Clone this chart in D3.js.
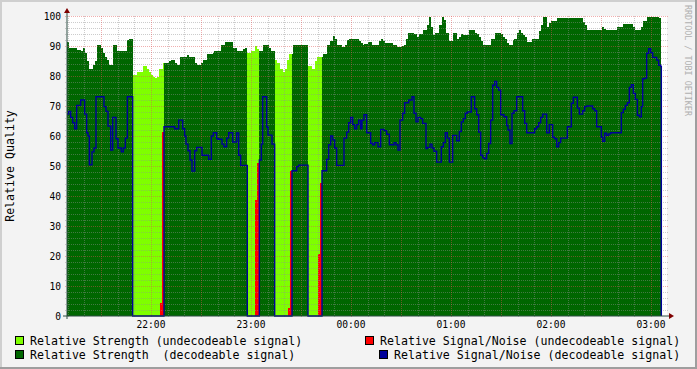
<!DOCTYPE html>
<html>
<head>
<meta charset="utf-8">
<script src="https://cdn.jsdelivr.net/npm/d3@7"></script>
<style>
  html, body { margin: 0; padding: 0; background: #F3F3F3; }
  svg { display: block; }
  text { font-family: "DejaVu Sans Mono", monospace; white-space: pre; }
</style>
</head>
<body>
<svg id="chart" width="697" height="369"></svg>
<script>
// time is minutes after 21:00, values are relative quality (0-100)

// relative strength, [minute, value] where the step changes
const strength = [
  [9.6,91.3],[10.6,89.3],[15.8,88.8],[17.8,88.4],[19.0,89.3],[20.2,87.6],[21.4,85.1],[23.0,82.4],
  [25.0,83.8],[26.2,85.1],[27.8,90.4],[30.2,89.3],[31.4,87.8],[32.6,86.4],[33.8,85.3],[35.0,83.6],
  [37.0,90.4],[39.4,88.2],[45.8,92.0],[47.0,92.4],[49.0,80.4],[51.4,81.4],[55.0,83.3],[57.4,82.4],
  [58.6,81.3],[59.8,80.4],[61.0,79.8],[62.2,79.3],[63.4,79.8],[64.6,82.4],[67.0,84.2],[68.2,84.4],
  [70.6,84.9],[71.8,85.3],[74.2,84.4],[75.4,83.6],[77.4,86.4],[81.8,87.1],[83.0,86.4],[86.2,84.4],
  [87.4,83.6],[89.8,84.4],[91.0,85.3],[93.4,87.3],[97.0,87.6],[97.8,88.2],[102.2,90.2],[104.6,91.3],
  [109.0,89.3],[111.4,88.4],[115.0,88.9],[116.2,89.3],[117.8,87.6],[119.8,88.4],[122.2,90.0],[123.4,89.1],
  [125.0,88.4],[127.0,90.4],[131.0,89.3],[132.2,88.2],[134.2,85.3],[135.8,84.2],[137.4,82.4],[139.0,81.3],
  [140.2,82.4],[141.4,85.3],[143.0,87.3],[145.0,90.4],[154.2,83.3],[156.6,82.4],[158.2,85.1],[159.8,86.4],
  [163.0,87.3],[165.4,90.2],[167.4,91.8],[169.0,93.3],[170.6,92.2],[171.8,90.4],[174.6,89.6],[176.2,90.4],
  [177.4,92.0],[179.0,92.4],[184.6,91.8],[185.8,91.1],[187.0,90.4],[187.8,90.7],[190.2,91.3],[192.6,90.4],
  [196.6,91.6],[197.8,92.4],[199.0,91.6],[200.2,91.1],[205.0,90.4],[207.4,89.6],[210.6,90.0],[211.8,90.4],
  [213.0,92.4],[214.2,94.4],[217.8,94.0],[219.4,93.1],[220.6,94.0],[223.0,95.3],[225.4,97.1],[226.6,99.8],
  [227.8,96.2],[229.0,93.8],[230.2,94.4],[233.0,96.9],[234.6,99.8],[235.8,98.7],[237.0,94.4],[238.6,91.8],
  [241.0,94.4],[243.4,92.4],[244.6,93.1],[245.8,94.0],[247.0,93.8],[248.2,93.6],[250.6,95.3],[254.2,94.4],
  [255.4,94.0],[256.6,93.1],[257.8,91.8],[259.0,90.4],[263.8,92.4],[266.2,94.2],[269.8,94.0],[271.0,93.1],
  [272.2,92.4],[273.4,91.1],[274.6,90.4],[277.0,92.0],[277.8,92.2],[279.4,94.4],[280.6,95.3],[281.8,94.4],
  [283.0,93.8],[284.2,93.1],[285.4,91.3],[288.6,92.2],[291.4,92.4],[292.6,95.0],[293.8,97.1],[295.0,99.8],
  [297.4,96.2],[298.6,97.6],[299.8,98.2],[303.8,99.3],[319.0,98.0],[320.2,97.1],[321.8,95.3],[330.6,96.2],
  [331.8,95.8],[333.0,95.3],[339.8,96.4],[343.0,97.3],[349.0,96.2],[350.2,95.3],[353.8,96.2],[355.0,98.2],
  [357.4,99.8],[363.8,99.6],[365.0,99.3]
];

// relative signal/noise while the signal could be decoded
const signalNoise = [
  [9.6,67.3],[10.6,68.2],[11.8,66.2],[13.0,64.4],[14.2,62.4],[15.4,70.2],[17.8,72.0],[20.2,67.3],
  [21.4,61.1],[22.2,60.0],[23.0,50.4],[24.6,54.7],[25.8,56.0],[27.0,73.1],[31.8,69.8],[33.0,68.2],
  [34.2,63.3],[35.8,55.3],[37.0,66.2],[39.0,59.1],[40.2,56.0],[42.2,54.7],[43.4,56.0],[44.6,59.3],
  [45.8,73.1],
  [67.8,63.1],[74.2,62.4],[76.6,65.3],[79.0,62.4],[80.2,60.0],[81.0,57.3],[82.2,55.1],[83.4,52.0],
  [84.6,48.3],[86.2,55.1],[87.4,56.2],[90.6,53.6],[94.6,52.2],[96.2,60.0],[97.4,61.1],[99.4,59.1],
  [100.6,58.9],[102.6,57.3],[103.8,56.4],[105.4,59.3],[106.6,61.1],[109.0,58.0],[111.4,61.0],[112.6,53.6],
  [113.8,50.2],
  [125.0,52.0],[126.2,57.3],[127.0,73.1],[129.4,63.0],[130.2,60.3],[132.6,57.3],
  [144.6,48.4],[147.4,49.8],[148.6,50.3],
  [162.6,48.4],[165.4,52.2],[166.6,57.1],[167.8,60.0],[169.0,58.7],[170.2,56.0],[171.4,50.2],[175.8,59.3],
  [177.4,61.3],[178.6,64.4],[179.8,66.2],[181.0,63.8],[182.2,62.4],[183.4,63.8],[184.6,65.3],[185.8,62.4],
  [186.6,65.3],[187.8,67.1],[189.4,61.1],[191.8,57.6],[193.0,57.1],[194.2,57.8],[196.2,56.4],[197.8,62.2],
  [199.8,61.8],[201.4,60.6],[203.0,57.1],[205.8,57.8],[207.0,57.1],[208.2,55.3],[209.4,65.3],[211.0,67.6],
  [212.2,71.1],[214.6,72.0],[216.6,73.1],[217.8,67.6],[219.0,64.7],[220.2,66.2],[221.8,65.8],[223.0,64.2],
  [225.0,55.8],[225.8,56.2],[227.4,57.3],[228.6,56.0],[229.8,54.9],[231.4,51.3],[234.2,56.4],[235.4,57.8],
  [236.6,61.1],[237.8,59.3],[239.0,51.3],[241.0,60.2],[243.4,58.4],[245.0,61.5],[246.2,64.7],[247.4,65.8],
  [248.6,67.6],[249.8,68.0],[252.2,73.1],[254.2,69.1],[255.4,67.1],[256.6,61.3],[257.8,53.6],[259.0,52.7],
  [260.2,52.4],[261.4,54.2],[262.6,57.5],[263.8,65.3],[265.0,76.9],[266.2,78.2],[267.4,76.2],[268.6,75.3],
  [269.8,67.1],[271.8,66.4],[273.4,63.5],[274.2,62.0],[275.4,57.5],[276.6,67.6],[277.8,68.4],[279.4,73.1],
  [283.0,68.4],[284.2,64.2],[285.4,61.1],[290.2,62.4],[291.4,63.1],[292.6,64.4],[293.8,66.2],[295.0,67.3],
  [297.4,61.1],[299.0,63.8],[301.0,59.6],[302.2,59.1],[303.4,56.4],[304.6,57.8],[305.8,59.3],[309.8,63.1],
  [312.2,70.9],[313.4,72.9],[315.8,69.3],[317.0,67.3],[319.0,68.4],[320.2,69.8],[321.4,70.0],[325.0,69.1],
  [326.2,68.4],[327.4,63.1],[330.2,59.6],[331.0,58.2],[332.2,60.9],[333.4,60.2],[334.6,60.7],[335.8,61.1],
  [342.2,67.8],[343.4,68.9],[344.6,70.2],[345.8,71.1],[347.0,76.2],[348.2,77.1],[349.4,74.2],[350.6,72.2],
  [351.8,66.9],[353.0,66.4],[354.2,69.8],[355.0,79.1],[356.2,79.3],[357.4,87.6],[358.6,89.1],[359.8,87.8],
  [361.0,86.2],[363.4,85.3],[364.6,83.6],[365.8,83.2]
];

// relative signal/noise while the signal could not be decoded
const signalNoiseBad = [
  [65.4,4.4],[66.6,61.3],[67.8,0],
  [122.6,38.7],[123.8,51.0],[125.0,0],
  [142.2,2.7],[143.4,48.4],[144.6,0],
  [160.2,20.7],[161.4,44.4],[162.6,0]
];

// periods with an undecodeable signal [from, to]
const undecodeable = [[49.0, 67.8], [117.8, 125.0], [134.2, 144.6], [154.2, 162.6]];

const dataStart = 9.6, dataEnd = 366.2;

const yTicks = [0, 10, 20, 30, 40, 50, 60, 70, 80, 90, 100];
const xLabelTimes = [60, 120, 180, 240, 300, 360];
const xLabels = ["22:00", "23:00", "00:00", "01:00", "02:00", "03:00"];

const legendItems = [
  {label: "Relative Strength (undecodeable signal)", color: "#7FFF00"},
  {label: "Relative Strength  (decodeable signal)", color: "#006600"},
  {label: "Relative Signal/Noise (undecodeable signal)", color: "#FF0000"},
  {label: "Relative Signal/Noise (decodeable signal)", color: "#000099"}
];

const W = 697, H = 369;
const plot = {left: 67, right: 667, top: 16, bottom: 316};

const svg = d3.select("#chart");

const x = d3.scaleLinear().domain([9.6, 369.6]).range([plot.left, plot.right]);
const y = d3.scaleLinear().domain([0, 100]).range([plot.bottom, plot.top]);

// value of a step series at time t
function stepAt(pairs, t) {
  let v = pairs[0][1];
  for (const p of pairs) {
    if (p[0] <= t) v = p[1]; else break;
  }
  return v;
}
// points of a step series between a and b
function slice(pairs, a, b) {
  const pts = [[a, stepAt(pairs, a)]];
  pairs.forEach(p => { if (p[0] > a && p[0] < b) pts.push(p); });
  pts.push([b, stepAt(pairs, b - 1e-6)]);
  return pts;
}

// decodeable periods = everything outside the gaps
const decodeable = [];
let from = dataStart;
undecodeable.forEach(g => { decodeable.push([from, g[0]]); from = g[1]; });
decodeable.push([from, dataEnd]);

// frame
svg.append("rect").attr("width", W).attr("height", H).attr("fill", "#F3F3F3");
svg.append("rect").attr("x", 0).attr("y", 0).attr("width", W).attr("height", 2).attr("fill", "#CFCFCF");
svg.append("rect").attr("x", 0).attr("y", 0).attr("width", 2).attr("height", H).attr("fill", "#CFCFCF");
svg.append("rect").attr("x", 0).attr("y", H - 2).attr("width", W).attr("height", 2).attr("fill", "#9E9E9E");
svg.append("rect").attr("x", W - 2).attr("y", 0).attr("width", 2).attr("height", H).attr("fill", "#9E9E9E");

// canvas
svg.append("rect")
  .attr("x", plot.left).attr("y", plot.top)
  .attr("width", plot.right - plot.left).attr("height", plot.bottom - plot.top)
  .attr("fill", "#FFFFFF");

const area = d3.area()
  .x(d => x(d[0]))
  .y0(y(0))
  .y1(d => y(d[1]))
  .curve(d3.curveStepAfter);

// strength areas
undecodeable.forEach(g => {
  svg.append("path").attr("d", area(slice(strength, g[0], g[1])))
    .attr("fill", "#7FFF00").attr("shape-rendering", "crispEdges");
});
decodeable.forEach(g => {
  svg.append("path").attr("d", area(slice(strength, g[0], g[1])))
    .attr("fill", "#006600").attr("shape-rendering", "crispEdges");
});

// undecodeable signal/noise
svg.append("path").attr("d", area(signalNoiseBad))
  .attr("fill", "#FF0000").attr("shape-rendering", "crispEdges");

// grid
const grid = svg.append("g");
const minorY = d3.range(0, 101, 2).filter(v => v % 10 !== 0);
const minorX = d3.range(10, 370, 10).filter(v => v % 30 !== 0);
const majorX = d3.range(30, 370, 30);

grid.selectAll(".hmin").data(minorY).enter().append("line")
  .attr("x1", plot.left - 2).attr("x2", plot.right + 2)
  .attr("y1", d => Math.round(y(d)) + 0.5).attr("y2", d => Math.round(y(d)) + 0.5)
  .attr("stroke", "rgba(143,143,143,0.46)").attr("stroke-dasharray", "1,1");
grid.selectAll(".vmin").data(minorX).enter().append("line")
  .attr("x1", d => Math.round(x(d)) + 0.5).attr("x2", d => Math.round(x(d)) + 0.5)
  .attr("y1", plot.top).attr("y2", plot.bottom + 2)
  .attr("stroke", "rgba(143,143,143,0.46)").attr("stroke-dasharray", "1,1");
grid.selectAll(".hmaj").data(yTicks.filter(v => v > 0)).enter().append("line")
  .attr("x1", plot.left - 2).attr("x2", plot.right + 2)
  .attr("y1", d => Math.round(y(d)) + 0.5).attr("y2", d => Math.round(y(d)) + 0.5)
  .attr("stroke", "rgba(222,80,80,0.46)").attr("stroke-dasharray", "1,1");
grid.selectAll(".vmaj").data(majorX).enter().append("line")
  .attr("x1", d => Math.round(x(d)) + 0.5).attr("x2", d => Math.round(x(d)) + 0.5)
  .attr("y1", plot.top).attr("y2", plot.bottom + 2)
  .attr("stroke", "rgba(222,80,80,0.46)").attr("stroke-dasharray", "1,1");

// decodeable signal/noise line (drops to zero in the gaps)
let linePts = [];
decodeable.forEach((g, i) => {
  linePts = linePts.concat(slice(signalNoise, g[0], g[1]));
  if (i < undecodeable.length) linePts.push([undecodeable[i][0], 0]);
});
linePts.push([dataEnd, 0]);

svg.append("path")
  .attr("d", d3.line().x(d => x(d[0])).y(d => y(d[1])).curve(d3.curveStepAfter)(linePts))
  .attr("fill", "none").attr("stroke", "#000099").attr("stroke-width", 1.4);

// axes
const axisColor = "#2C4D43";
svg.append("line").attr("x1", plot.left).attr("x2", plot.left)
  .attr("y1", plot.bottom + 3).attr("y2", plot.top - 5)
  .attr("stroke", axisColor).attr("stroke-width", 1);
svg.append("line").attr("x1", plot.left - 4).attr("x2", plot.right + 4)
  .attr("y1", plot.bottom).attr("y2", plot.bottom)
  .attr("stroke", axisColor).attr("stroke-width", 1);
svg.append("path")
  .attr("d", `M${plot.left - 3},${plot.top - 3}L${plot.left},${plot.top - 8}L${plot.left + 3},${plot.top - 3}Z`)
  .attr("fill", "#7F0000");
svg.append("path")
  .attr("d", `M${plot.right + 2},${plot.bottom - 3}L${plot.right + 7},${plot.bottom}L${plot.right + 2},${plot.bottom + 3}Z`)
  .attr("fill", "#7F0000");

// tick labels
svg.append("g").selectAll("text").data(yTicks).enter().append("text")
  .attr("x", plot.left - 6).attr("y", d => y(d) + 3.5)
  .attr("text-anchor", "end").attr("font-size", "9.6px").attr("fill", "#000")
  .text(d => d);
svg.append("g").selectAll("text").data(xLabelTimes).enter().append("text")
  .attr("x", d => x(d)).attr("y", 327.5)
  .attr("text-anchor", "middle").attr("font-size", "9.6px").attr("fill", "#000")
  .text((d, i) => xLabels[i]);

// axis title
svg.append("text")
  .attr("transform", "translate(14,166) rotate(-90)")
  .attr("text-anchor", "middle").attr("font-size", "11.6px").attr("fill", "#000")
  .text("Relative Quality");

// watermark
svg.append("text")
  .attr("transform", "translate(685,5) rotate(90)")
  .attr("font-size", "8.4px").attr("fill", "#B0B0B0")
  .text("RRDTOOL / TOBI OETIKER");

// legend
const legendPos = [
  {bx: 15, tx: 30, y: 336},
  {bx: 15, tx: 30, y: 350},
  {bx: 365, tx: 380, y: 336},
  {bx: 379, tx: 394, y: 350}
];
const legend = svg.append("g");
legendItems.forEach((d, i) => {
  const p = legendPos[i];
  legend.append("rect")
    .attr("x", p.bx + 0.5).attr("y", p.y + 0.5).attr("width", 8).attr("height", 8)
    .attr("fill", d.color).attr("stroke", "#000").attr("stroke-width", 1);
  legend.append("text")
    .attr("x", p.tx).attr("y", p.y + 8.8)
    .attr("font-size", "11.6px").attr("fill", "#000")
    .text(d.label);
});
</script>
</body>
</html>
